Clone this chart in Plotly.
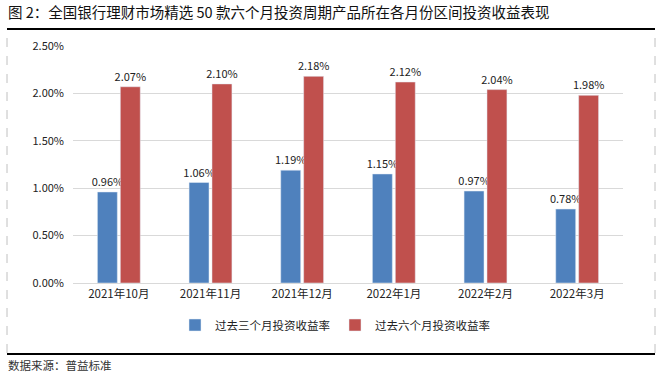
import plotly.graph_objects as go

categories = ["2021年10月", "2021年11月", "2021年12月", "2022年1月", "2022年2月", "2022年3月"]
three_month = [0.96, 1.06, 1.19, 1.15, 0.97, 0.78]
six_month = [2.07, 2.10, 2.18, 2.12, 2.04, 1.98]
tick_vals = [0, 0.5, 1.0, 1.5, 2.0, 2.5]
tick_text = ["0.00%", "0.50%", "1.00%", "1.50%", "2.00%", "2.50%"]

FONT = "Noto Sans CJK SC"
PW, PH = 550, 237

fig = go.Figure()
fig.add_trace(go.Bar(
    x=categories, y=three_month, name="过去三个月投资收益率",
    marker_color="#4F81BD",
    text=[f"{v:.2f}%" for v in three_month], textposition="outside",
    textfont=dict(size=11, color="#222222"), cliponaxis=False, constraintext="none",
))
fig.add_trace(go.Bar(
    x=categories, y=six_month, name="过去六个月投资收益率",
    marker_color="#C0504D",
    text=[f"{v:.2f}%" for v in six_month], textposition="outside",
    textfont=dict(size=11, color="#222222"), cliponaxis=False, constraintext="none",
))

fig.update_layout(
    width=663, height=379,
    margin=dict(l=73, r=40, t=46, b=96, autoexpand=False),
    paper_bgcolor="white", plot_bgcolor="white",
    font=dict(family=FONT, size=11, color="#222222"),
    barmode="group", bargap=0.5, bargroupgap=0.13,
    showlegend=True,
    legend=dict(orientation="h", x=262/PW, xanchor="center", y=-42/PH, yanchor="middle",
                font=dict(size=11.5), itemwidth=30, tracegroupgap=0),
    xaxis=dict(showline=True, linecolor="#d9d9d9", ticks="", tickfont=dict(size=11.5),
               fixedrange=True),
    yaxis=dict(range=[0, 2.5], tickvals=tick_vals, ticktext=tick_text,
               showgrid=True, gridcolor="#d9d9d9", zeroline=False,
               ticks="", ticklabelstandoff=8, tickfont=dict(size=11)),
    annotations=[
        dict(text="图 2：全国银行理财市场精选 50 款六个月投资周期产品所在各月份区间投资收益表现",
             xref="paper", yref="paper", x=-67/PW, y=1 + 34/PH, xanchor="left", yanchor="middle",
             showarrow=False, font=dict(size=14.5, color="#111111", family=FONT)),
        dict(text="数据来源：普益标准",
             xref="paper", yref="paper", x=-67/PW, y=-82/PH, xanchor="left", yanchor="middle",
             showarrow=False, font=dict(size=11.5, color="#333333", family=FONT)),
    ],
    shapes=[
        dict(type="line", xref="paper", yref="paper", x0=-66/PW, x1=582/PW,
             y0=1 + 17/PH, y1=1 + 17/PH, line=dict(color="black", width=2)),
        dict(type="line", xref="paper", yref="paper", x0=-66/PW, x1=582/PW,
             y0=-71/PH, y1=-71/PH, line=dict(color="black", width=2)),
        dict(type="line", xref="paper", yref="paper", x0=-66/PW, x1=-66/PW,
             y0=-70/PH, y1=1 + 16/PH, line=dict(color="#c0c0c0", width=1, dash="dash")),
        dict(type="line", xref="paper", yref="paper", x0=582/PW, x1=582/PW,
             y0=-70/PH, y1=1 + 16/PH, line=dict(color="#c0c0c0", width=1, dash="dash")),
    ],
)

fig.write_html("out.html", config={"displayModeBar": False},
               post_script="document.body.style.margin='0';")
